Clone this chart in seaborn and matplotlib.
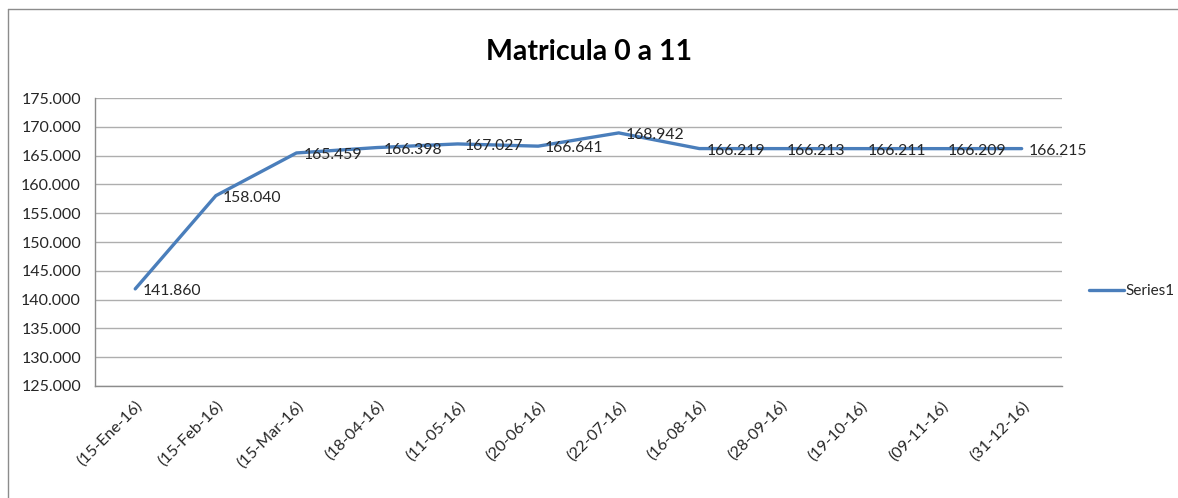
import matplotlib
matplotlib.use("Agg")
import matplotlib.pyplot as plt
import seaborn as sns
import pandas as pd
from matplotlib.ticker import FuncFormatter, MultipleLocator
from matplotlib.lines import Line2D

fechas = ["(15-Ene-16)", "(15-Feb-16)", "(15-Mar-16)", "(18-04-16)", "(11-05-16)",
          "(20-06-16)", "(22-07-16)", "(16-08-16)", "(28-09-16)", "(19-10-16)",
          "(09-11-16)", "(31-12-16)"]
matricula = [141860, 158040, 165459, 166398, 167027, 166641, 168942,
             166219, 166213, 166211, 166209, 166215]
serie = "Series1"
titulo = "Matricula 0 a 11"

sns.set_theme(style="white")
plt.rcParams['font.family'] = ['Lato', 'DejaVu Sans']

df = pd.DataFrame({"fecha": fechas, "valor": matricula})

fig = plt.figure(figsize=(11.78, 4.98), dpi=100)
ax = fig.add_axes([0.0806, 0.2249, 0.8209, 0.5783])

line_color = "#4A7EBB"
sns.lineplot(data=df, x="fecha", y="valor", sort=False, ax=ax,
             color=line_color, linewidth=2.4, label=serie, legend=False)

def fmt(v):
    return f"{int(round(v)):,}".replace(",", ".")

for i, v in enumerate(matricula):
    ax.annotate(fmt(v), (i, v), xytext=(5, -1.5), textcoords="offset points",
                ha="left", va="center", fontsize=11.3, color="#262626")

ax.set_ylim(125000, 175000)
ax.set_xlim(-0.5, len(fechas) - 0.5)
ax.yaxis.set_major_locator(MultipleLocator(5000))
ax.yaxis.set_major_formatter(FuncFormatter(lambda v, p: fmt(v)))
ax.grid(axis="y", color="#AEAEAE", linewidth=1.0)
ax.set_axisbelow(True)
ax.set_xlabel("")
ax.set_ylabel("")
for s in ["top", "right"]:
    ax.spines[s].set_visible(False)
for s in ["left", "bottom"]:
    ax.spines[s].set_color("#8C8C8C")
    ax.spines[s].set_linewidth(1.0)
ax.tick_params(axis="y", labelsize=11.5, colors="#262626", length=0, pad=10)
ax.tick_params(axis="x", labelsize=11.6, colors="#262626", length=0, pad=9)
for lbl in ax.get_xticklabels():
    lbl.set_rotation(45)
    lbl.set_ha("right")
    lbl.set_rotation_mode("anchor")

fig.text(0.5, 0.895, titulo, ha="center", va="center", fontsize=20.5, fontweight="bold", color="#000000")

handle = Line2D([0], [0], color=line_color, linewidth=2.4)
fig.legend([handle], [serie], loc="center left", bbox_to_anchor=(0.913, 0.415),
           frameon=False, fontsize=11, handlelength=2.3, handletextpad=0.1)

# chart border
fig.add_artist(Line2D([0.007, 0.007], [0.0, 0.982], transform=fig.transFigure, color="#8C8C8C", linewidth=1))
fig.add_artist(Line2D([0.007, 1.0], [0.982, 0.982], transform=fig.transFigure, color="#8C8C8C", linewidth=1))

fig.savefig("out.png", dpi=100)
